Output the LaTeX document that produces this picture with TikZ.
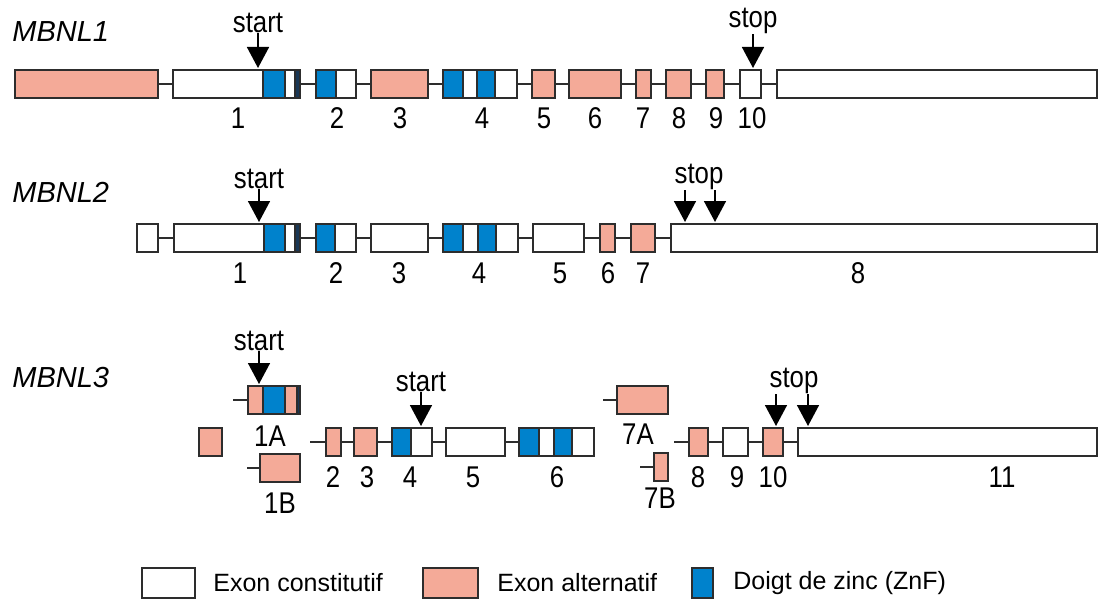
\documentclass[tikz,border=0pt]{standalone}
\usepackage{fontspec}
\setmainfont{Liberation Sans}
\newfontfamily\narrowfont[FakeStretch=0.86]{Liberation Sans}
\usetikzlibrary{arrows.meta,positioning}
\definecolor{altpink}{RGB}{244,170,152}
\definecolor{znfblue}{RGB}{0,130,204}
\definecolor{znfdark}{RGB}{25,55,85}
\definecolor{edgegray}{RGB}{45,45,45}
\tikzset{
  exonbox/.style={draw=edgegray,line width=1pt,fill=white,inner sep=0pt,outer sep=0pt,minimum height=14pt},
  alt/.style={fill=altpink},
  znf/.style={draw=edgegray,line width=1pt,fill=znfblue},
  intron/.style={draw=edgegray,line width=1pt},
  num/.style={font=\narrowfont\fontsize{15}{15}\selectfont,inner sep=0pt},
  gene/.style={font=\itshape\fontsize{14.5}{15}\selectfont,inner sep=0pt,anchor=west},
  siteline/.style={line width=0.8pt,-{Triangle[width=11pt,length=10.5pt]},shorten >=1pt},
  legtext/.style={font=\fontsize{12.5}{13}\selectfont,inner sep=0pt,anchor=west}
}
% exon: [style]{name}{x left}{x right}{y}
\newcommand{\exon}[5][]{\node[exonbox,#1,minimum width={(#4-#3)*0.5pt}] (#2) at ({(#3+#4)/2},#5) {};}
% zinc finger block inside an exon
\newcommand{\zinc}[4][]{\draw[znf,#1] (#2,{#4-14}) rectangle (#3,{#4+14});}

\begin{document}
\begin{tikzpicture}[x=0.5pt,y=-0.5pt]
   \useasboundingbox (0,0) rectangle (1098,599);
   % MBNL1
   \node[gene] (g1) at (12,32) {MBNL1};
   \exon[alt]{a0}{15}{158}{84}
   \exon{a1}{173}{300}{84} \zinc{263}{285}{84} \zinc[fill=znfdark]{295}{300}{84}
   \exon{a2}{316}{356}{84} \zinc{316}{336}{84}
   \exon[alt]{a3}{371}{428}{84}
   \exon{a4}{443}{517}{84} \zinc{443}{463}{84} \zinc{477}{495}{84}
   \exon[alt]{a5}{532}{555}{84}
   \exon[alt]{a6}{569}{621}{84}
   \exon[alt]{a7}{636}{651}{84}
   \exon[alt]{a8}{666}{691}{84}
   \exon[alt]{a9}{706}{724}{84}
   \exon{a10}{740}{761}{84}
   \exon{a11}{777}{1097}{84}
   \foreach \i/\j in {a0/a1,a1/a2,a2/a3,a3/a4,a4/a5,a5/a6,a6/a7,a7/a8,a8/a9,a9/a10,a10/a11}
     \draw[intron] (\i.east) -- (\j.west);
   \foreach \n/\x in {1/238,2/337,3/400,4/482,5/544,6/595,7/643,8/679,9/716,10/752}
     \node[num] (na\n) at (\x,118) {\n};
   \node[num] (start1) at (258,23) {start};
   \node[num] (stop1) at (753,21) {stop};
   \draw[siteline] (start1.south) -- (start1.south |- a1.north);
   \draw[siteline] (stop1.south) -- (stop1.south |- a10.north);

   % MBNL2
   \node[gene] (g2) at (12,192) {MBNL2};
   \exon{b0}{137}{158}{238}
   \exon{b1}{174}{300}{238} \zinc{264}{285}{238} \zinc[fill=znfdark]{295}{300}{238}
   \exon{b2}{316}{356}{238} \zinc{316}{335}{238}
   \exon{b3}{371}{428}{238}
   \exon{b4}{443}{518}{238} \zinc{443}{463}{238} \zinc{478}{496}{238}
   \exon{b5}{533}{584}{238}
   \exon[alt]{b6}{600}{615}{238}
   \exon[alt]{b7}{631}{655}{238}
   \exon{b8}{671}{1097}{238}
   \foreach \i/\j in {b0/b1,b1/b2,b2/b3,b3/b4,b4/b5,b5/b6,b6/b7,b7/b8}
     \draw[intron] (\i.east) -- (\j.west);
   \foreach \n/\x in {1/240,2/336,3/399,4/479,5/560,6/608,7/643,8/858}
     \node[num] (nb\n) at (\x,273) {\n};
   \node[num] (start2) at (259,179) {start};
   \node[num] (stop2) at (699,177) {stop};
   \draw[siteline] (start2.south) -- (start2.south |- b1.north);
   \draw[siteline] ([xshift=-7pt]stop2.south) -- ([xshift=-7pt]stop2.south |- b8.north);
   \draw[siteline] ([xshift=8pt]stop2.south) -- ([xshift=8pt]stop2.south |- b8.north);

   % MBNL3
   \node[gene] (g3) at (12,378) {MBNL3};
   \exon[alt]{c0}{199}{222}{442}
   \exon[alt]{c1a}{248}{300}{400} \zinc{263}{285}{400} \zinc[fill=znfdark]{297}{300}{400}
   \exon[alt]{c1b}{260}{300}{468}
   \exon[alt]{c2}{326}{341}{442}
   \exon[alt]{c3}{354}{377}{442}
   \exon{c4}{392}{432}{442} \zinc{392}{411}{442}
   \exon{c5}{446}{505}{442}
   \exon{c6}{519}{594}{442} \zinc{519}{539}{442} \zinc{554}{572}{442}
   \exon[alt]{c7a}{617}{668}{400}
   \exon[alt]{c7b}{654}{668}{467}
   \exon[alt]{c8}{689}{708}{442}
   \exon{c9}{723}{748}{442}
   \exon[alt]{c10}{763}{783}{442}
   \exon{c11}{798}{1097}{442}
   \coordinate (s1a) at (233,400);
   \coordinate (s1b) at (247,468);
   \coordinate (s2) at (310,442);
   \coordinate (s7a) at (603,400);
   \coordinate (s7b) at (640,467);
   \coordinate (s8) at (674,442);
   \foreach \i/\j in {s1a/c1a,s1b/c1b,s7a/c7a,s7b/c7b}
     \draw[intron] (\i) -- (\j.west);
   \foreach \i/\j in {c2/c3,c3/c4,c4/c5,c5/c6,c8/c9,c9/c10,c10/c11}
     \draw[intron] (\i.east) -- (\j.west);
   \draw[intron] (s2) -- (c2.west);
   \draw[intron] (s8) -- (c8.west);
   \foreach \n/\x in {2/333,3/367,4/410,5/473,6/557,8/698,9/737,10/773,11/1002}
     \node[num] (nc\n) at (\x,477) {\n};
   \node[num] (n1A) at (270,436) {1A};
   \node[num] (n1B) at (280,503) {1B};
   \node[num] (n7A) at (638,434) {7A};
   \node[num] (n7B) at (660,498) {7B};
   \node[num] (start3) at (259,341) {start};
   \node[num] (start4) at (421,382) {start};
   \node[num] (stop3) at (794,381) {stop};
   \draw[siteline] (start3.south) -- (start3.south |- c1a.north);
   \draw[siteline] (start4.south) -- (start4.south |- c4.north);
   \draw[siteline] ([xshift=-9pt]stop3.south) -- ([xshift=-9pt]stop3.south |- c11.north);
   \draw[siteline] ([xshift=7pt]stop3.south) -- ([xshift=7pt]stop3.south |- c11.north);

   % legend
   \node[exonbox,minimum width=26.5pt,minimum height=15pt] (legconst) at (168.5,583) {};
   \node[legtext,right=9pt of legconst] (legconsttext) {Exon constitutif};
   \node[exonbox,alt,minimum width=27.5pt,minimum height=15pt] (legalt) at (450.5,583) {};
   \node[legtext,right=9.5pt of legalt] (legalttext) {Exon alternatif};
   \node[exonbox,fill=znfblue,minimum width=10.5pt,minimum height=15pt] (legznf) at (702.5,583) {};
   \node[legtext,right=10pt of legznf] (legznftext) {Doigt de zinc (ZnF)};
\end{tikzpicture}
\end{document}
